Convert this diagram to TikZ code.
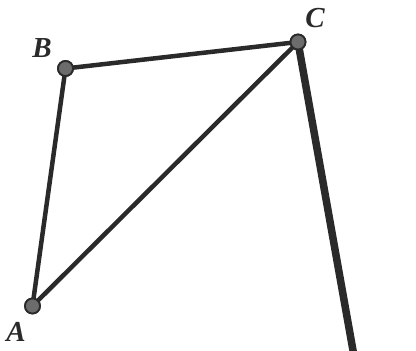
\documentclass[tikz,border=0pt]{standalone}
\usepackage{fontspec}
\setmainfont{Liberation Serif}
\usetikzlibrary{positioning}
\definecolor{ink}{HTML}{2A2A2A}
\definecolor{dotgrey}{HTML}{6C6C6C}
\tikzset{
  vertex/.style={circle,draw=ink,fill=dotgrey,line width=1.8pt,minimum size=15pt,inner sep=0pt},
  edge/.style={draw=ink,line width=4.5pt},
  leg/.style={draw=ink,line width=7.5pt},
  vlabel/.style={font=\fontsize{29}{29}\selectfont\bfseries\itshape,text=ink,inner sep=0pt},
}

\begin{document}
\begin{tikzpicture}[x=1pt,y=-1pt]
  \useasboundingbox (0,0) rectangle (416,351);
  % points
  \node[vertex] (A) at (32.5,306) {};
  \node[vertex] (B) at (65.5,68.5) {};
  \node[vertex] (C) at (298,42) {};
  \coordinate (foot) at (354,356);
  % sides
  \draw[leg] (C.center) -- (foot);
  \draw[edge] (A.center) -- (B.center);
  \draw[edge] (B.center) -- (C.center);
  \draw[edge] (A.center) -- (C.center);
  \node[vertex] at (A) {};
  \node[vertex] at (B) {};
  \node[vertex] at (C) {};
  % labels
  \node[vlabel] (labA) at (16,332) {A};
  \node[vlabel] (labB) at (42,48.5) {B};
  \node[vlabel] (labC) at (315,18) {C};
\end{tikzpicture}
\end{document}
